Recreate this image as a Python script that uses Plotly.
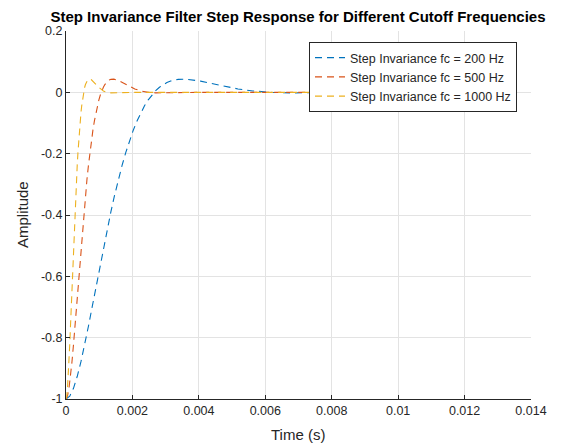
import plotly.graph_objects as go

# Step responses (output minus unit step) of the step-invariant filters
t_200_ms = [0, 0.1125, 0.2251, 0.3376, 0.4502, 0.5627, 0.6752, 0.7878, 0.9003, 1.0129,
            1.1254, 1.2379, 1.3505, 1.4630, 1.5756, 1.6881, 1.8006, 1.9132, 2.0257, 2.1383,
            2.2508, 2.3633, 2.4759, 2.5884, 2.7010, 2.8135, 2.9260, 3.0386, 3.1511, 3.2637,
            3.3762, 3.6013, 3.8264, 4.0514, 4.2765, 4.5016, 4.8392, 5.1768, 5.6270, 6.1897,
            6.7524, 7.8778, 9.0032, 10.1286, 12.5]
t_500_ms = [0, 0.0450, 0.0900, 0.1350, 0.1801, 0.2251, 0.2701, 0.3151, 0.3601, 0.4051,
            0.4502, 0.4952, 0.5402, 0.5852, 0.6302, 0.6752, 0.7203, 0.7653, 0.8103, 0.8553,
            0.9003, 0.9453, 0.9903, 1.0354, 1.0804, 1.1254, 1.1704, 1.2154, 1.2604, 1.3055,
            1.3505, 1.4405, 1.5305, 1.6206, 1.7106, 1.8006, 1.9357, 2.0707, 2.2508, 2.4759,
            2.7010, 3.1511, 3.6013, 4.0514, 12.5]
t_1000_ms = [0, 0.0225, 0.0450, 0.0675, 0.0900, 0.1125, 0.1350, 0.1576, 0.1801, 0.2026,
             0.2251, 0.2476, 0.2701, 0.2926, 0.3151, 0.3376, 0.3601, 0.3826, 0.4051, 0.4276,
             0.4502, 0.4727, 0.4952, 0.5177, 0.5402, 0.5627, 0.5852, 0.6077, 0.6302, 0.6527,
             0.6752, 0.7203, 0.7653, 0.8103, 0.8553, 0.9003, 0.9678, 1.0354, 1.1254, 1.2379,
             1.3505, 1.5756, 1.8006, 2.0257, 12.5]

y_200 = [-1, -0.9907, -0.9651, -0.9267, -0.8784, -0.8231, -0.7628, -0.6997, -0.6354, -0.5712,
         -0.5083, -0.4476, -0.3899, -0.3355, -0.2849, -0.2384, -0.1959, -0.1576, -0.1234, -0.0932,
         -0.0667, -0.0439, -0.0244, -0.0080, 0.0056, 0.0166, 0.0254, 0.0320, 0.0369, 0.0403,
         0.0423, 0.0431, 0.0408, 0.0366, 0.0314, 0.0258, 0.0179, 0.0111, 0.0045, 0.0000,
         -0.0017, -0.0013, -0.0003, 0.0000, 0.0000]
y_500 = [-1, -0.9907, -0.9651, -0.9267, -0.8784, -0.8231, -0.7628, -0.6997, -0.6354, -0.5712,
         -0.5083, -0.4476, -0.3899, -0.3355, -0.2849, -0.2384, -0.1959, -0.1576, -0.1234, -0.0932,
         -0.0667, -0.0439, -0.0244, -0.0080, 0.0056, 0.0166, 0.0254, 0.0320, 0.0369, 0.0403,
         0.0423, 0.0431, 0.0408, 0.0366, 0.0314, 0.0258, 0.0179, 0.0111, 0.0045, 0.0000,
         -0.0017, -0.0013, -0.0003, 0.0000, 0.0000]
y_1000 = [-1, -0.9907, -0.9651, -0.9267, -0.8784, -0.8231, -0.7628, -0.6997, -0.6354, -0.5712,
          -0.5083, -0.4476, -0.3899, -0.3355, -0.2849, -0.2384, -0.1959, -0.1576, -0.1234, -0.0932,
          -0.0667, -0.0439, -0.0244, -0.0080, 0.0056, 0.0166, 0.0254, 0.0320, 0.0369, 0.0403,
          0.0423, 0.0431, 0.0408, 0.0366, 0.0314, 0.0258, 0.0179, 0.0111, 0.0045, 0.0000,
          -0.0017, -0.0013, -0.0003, 0.0000, 0.0000]

series_names = ["Step Invariance fc = 200 Hz",
                "Step Invariance fc = 500 Hz",
                "Step Invariance fc = 1000 Hz"]
series_colors = ["#0072BD", "#D95319", "#EDB120"]

x_ticks = [0, 0.002, 0.004, 0.006, 0.008, 0.010, 0.012, 0.014]
x_tick_labels = ["0", "0.002", "0.004", "0.006", "0.008", "0.01", "0.012", "0.014"]
y_ticks = [-1, -0.8, -0.6, -0.4, -0.2, 0, 0.2]
y_tick_labels = ["-1", "-0.8", "-0.6", "-0.4", "-0.2", "0", "0.2"]

FONT = "Liberation Sans, Arial, Helvetica, sans-serif"
AX = "#262626"
GRID = "#e3e3e3"

# plot area in pixels
W, H = 565, 446
L, R, T, B = 66, 34, 31, 47
PW, PH = W - L - R, H - T - B

fig = go.Figure()
for t_ms, y, name, color in zip([t_200_ms, t_500_ms, t_1000_ms],
                                [y_200, y_500, y_1000],
                                series_names, series_colors):
    fig.add_trace(go.Scatter(
        x=[v * 1e-3 for v in t_ms], y=y, mode="lines", name=name,
        line=dict(color=color, width=1.1, dash="7px,5px"),
    ))

axis_common = dict(
    showgrid=True, gridcolor=GRID, gridwidth=1,
    showline=True, linecolor=AX, linewidth=1,
    ticks="inside", ticklen=4, tickcolor=AX,
    zeroline=False, mirror=False, automargin=False,
    tickfont=dict(family=FONT, size=12.5, color=AX),
)

fig.update_layout(
    width=W, height=H,
    margin=dict(l=L, r=R, t=T, b=B),
    paper_bgcolor="white", plot_bgcolor="white",
    title=dict(text="<b>Step Invariance Filter Step Response for Different Cutoff Frequencies</b>",
               x=298 / W, xanchor="center",
               y=1 - 17 / H, yanchor="middle",
               font=dict(family=FONT, size=15, color="#000000")),
    xaxis=dict(range=[0, 0.014], tickvals=x_ticks, ticktext=x_tick_labels, **axis_common),
    yaxis=dict(range=[-1, 0.2], tickvals=y_ticks, ticktext=y_tick_labels, **axis_common),
    legend=dict(x=1 - 14 / PW, xanchor="right", y=1 - 11 / PH, yanchor="top",
                bgcolor="white", bordercolor="#262626", borderwidth=1,
                font=dict(family=FONT, size=12.5, color=AX),
                tracegroupgap=0, itemwidth=30),
    showlegend=True,
)

# axis titles
fig.add_annotation(text="Time (s)", xref="paper", yref="paper",
                   x=(298 - L) / PW, y=-(434 - (T + PH)) / PH,
                   xanchor="center", yanchor="middle", showarrow=False,
                   font=dict(family=FONT, size=15, color=AX))
fig.add_annotation(text="Amplitude", xref="paper", yref="paper",
                   x=(22 - L) / PW, y=(T + PH - 215) / PH, textangle=-90,
                   xanchor="center", yanchor="middle", showarrow=False,
                   font=dict(family=FONT, size=15, color=AX))

fig.write_html("out.html")
